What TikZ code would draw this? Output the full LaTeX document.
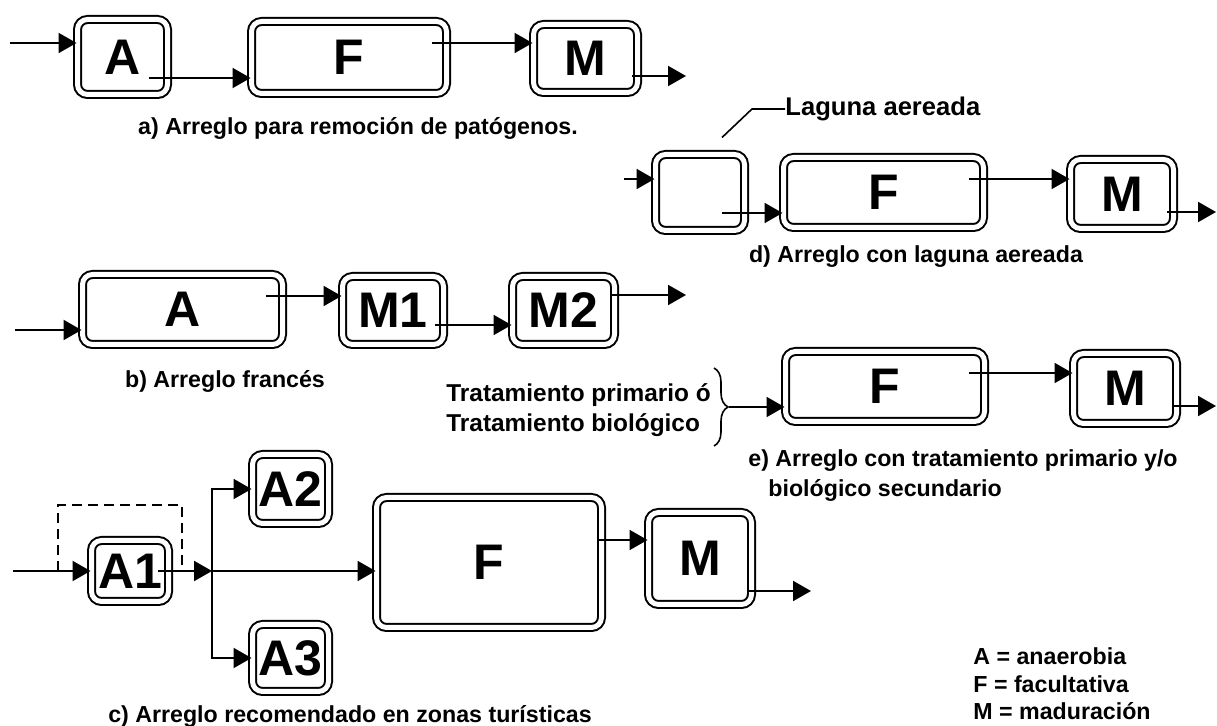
\documentclass[tikz,border=0pt]{standalone}
\usepackage{fontspec}
\setmainfont{Liberation Sans}
\usepackage{tikz}
\usetikzlibrary{arrows.meta, positioning, decorations.pathreplacing, calc}
\newcommand{\lbl}{\fontsize{11.6}{15}\selectfont\bfseries}
\newcommand{\pondlbl}{\fontsize{25}{28}\selectfont\bfseries}

\begin{document}
\begin{tikzpicture}[x=0.5pt, y=-0.5pt,
   pond/.style={draw, double, double distance=2.5pt, line width=1pt,
                rounded corners=5pt, inner sep=0pt, font=\pondlbl},
   arr/.style={-{Triangle[length=9pt, width=10pt]}, line width=1pt},
   capt/.style={font=\lbl, inner sep=0pt, align=left},
   bypass/.style={line width=0.8pt, dash pattern=on 5pt off 3pt},
   brc/.style={line width=0.8pt, decorate, decoration={brace, amplitude=7pt}}]
  \useasboundingbox (0,0) rectangle (1217,726);

  \node[pond, minimum width=45pt, minimum height=37.5pt] (aA) at (122.5,57) {A};
  \node[pond, minimum width=97.5pt, minimum height=36pt] (aF) at (349,57.5) {F};
  \node[pond, minimum width=52pt, minimum height=34pt] (aM) at (585.5,58.5) {M};
  \coordinate (ain) at (10,43);
  \coordinate (aout) at (686,76);
  \draw[arr] (ain) -- (ain -| aA.west);
  \draw[arr] ([shift={(-19.5,21)}]aA.east) coordinate (p) -- (p -| aF.west);
  \draw[arr] ([shift={(-15.5,-14.5)}]aF.east) coordinate (p) -- (p -| aM.west);
  \draw[arr] ([shift={(-6.5,17.5)}]aM.east) -- (aout);
  \node[capt] (capa) at (358,128) {a) Arreglo para remoción de patógenos.};

  \node[pond, minimum width=44.5pt, minimum height=38pt] (dL) at (700,192.5) {};
  \node[pond, minimum width=100pt, minimum height=35pt] (dF) at (883.5,192.5) {F};
  \node[pond, minimum width=51.5pt, minimum height=34.5pt] (dM) at (1122,194) {M};
  \node[capt, anchor=west, font=\fontsize{12.8}{15}\selectfont\bfseries] (lag) at (785,109) {Laguna aereada};
  \coordinate (din) at (624,179);
  \coordinate (dout) at (1216,212);
  \draw[line width=0.8pt] (lag.west) -- ++(-33,0) -- ([shift={(22,-16)}]dL.north);
  \draw[arr] (din) -- (din -| dL.west);
  \draw[arr] ([shift={(-23.5,20.5)}]dL.east) coordinate (p) -- (p -| dF.west);
  \draw[arr] ([shift={(-15.5,-13.5)}]dF.east) coordinate (p) -- (p -| dM.west);
  \draw[arr] ([shift={(-7.5,18)}]dM.east) -- (dout);
  \node[capt] (capd) at (916,257) {d) Arreglo con laguna aereada};

  \node[pond, minimum width=100pt, minimum height=35pt] (bA) at (182.5,309.5) {A};
  \node[pond, minimum width=50.5pt, minimum height=34pt] (bM1) at (393,310.5) {M1};
  \node[pond, minimum width=51pt, minimum height=34pt] (bM2) at (563.5,310.5) {M2};
  \coordinate (bin) at (15,330);
  \coordinate (bout) at (686,295);
  \draw[arr] (bin) -- (bin -| bA.west);
  \draw[arr] ([shift={(-17.5,-13.5)}]bA.east) coordinate (p) -- (p -| bM1.west);
  \draw[arr] ([shift={(-9.5,14.5)}]bM1.east) coordinate (p) -- (p -| bM2.west);
  \draw[arr] ([shift={(-3.5,-15.5)}]bM2.east) -- (bout);
  \node[capt] (capb) at (225,381) {b) Arreglo francés};

  \node[capt, anchor=west, font=\fontsize{12.2}{15}\selectfont\bfseries] (trat) at (446,410)
       {Tratamiento primario ó\\Tratamiento biológico};
  \node[pond, minimum width=99.5pt, minimum height=35pt] (eF) at (885,386.5) {F};
  \node[pond, minimum width=51.5pt, minimum height=35pt] (eM) at (1125,388.5) {M};
  \coordinate (brtop) at (714,368);
  \coordinate (brbot) at (714,446);
  \coordinate (brtip) at (729,407);
  \coordinate (eout) at (1216,406);
  \draw[brc] (brtop) -- (brbot);
  \draw[arr] (brtip) -- (brtip -| eF.west);
  \draw[arr] ([shift={(-16.5,-13.5)}]eF.east) coordinate (p) -- (p -| eM.west);
  \draw[arr] ([shift={(-3.5,17.5)}]eM.east) -- (eout);
  \node[capt, anchor=west] (cape) at (748,476)
       {e) Arreglo con tratamiento primario y/o\\\hspace*{10pt}biológico secundario};

  \node[pond, minimum width=38.5pt, minimum height=30.5pt] (cA1) at (130,571) {A1};
  \node[pond, minimum width=38pt, minimum height=34.5pt] (cA2) at (290.5,489) {A2};
  \node[pond, minimum width=38pt, minimum height=33.5pt] (cA3) at (290.5,658) {A3};
  \node[pond, minimum width=112.5pt, minimum height=65pt] (cF) at (489,562.5) {F};
  \node[pond, minimum width=51.5pt, minimum height=46pt] (cM) at (700,558.5) {M};
  \coordinate (cin) at (13,571);
  \coordinate (cj) at (212,571);
  \coordinate (cout) at (811,591);
  \draw[bypass] (58,571) |- (182,505) -- (182,571);
  \draw[arr] (cin) -- (cA1.west);
  \draw[arr] ([shift={(-11.5,0)}]cA1.east) -- (cj);
  \draw[arr] (cj) |- (cA2.west);
  \draw[arr] (cj) |- (cA3.west);
  \draw[arr] (cj) -- (cj -| cF.west);
  \draw[arr] ([shift={(-5.5,-22.5)}]cF.east) coordinate (p) -- (p -| cM.west);
  \draw[arr] ([shift={(-3.5,32.5)}]cM.east) -- (cout);
  \node[capt] (capc) at (350,716) {c) Arreglo recomendado en zonas turísticas};

  \node[capt, anchor=west, font=\fontsize{11.6}{13.75}\selectfont\bfseries] (leg) at (973,684)
       {A = anaerobia\\F = facultativa\\M = maduración};
\end{tikzpicture}
\end{document}
